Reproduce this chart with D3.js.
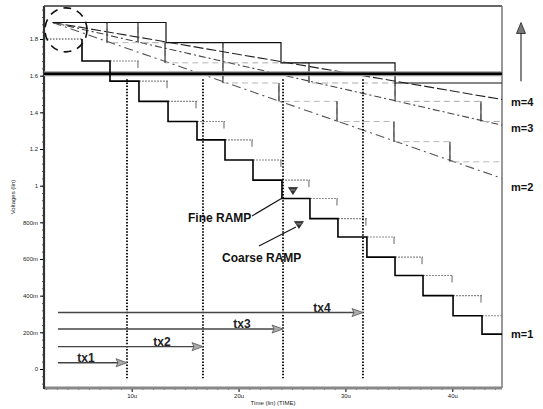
<!DOCTYPE html>
<html>
<head>
<meta charset="utf-8">
<script src="https://cdnjs.cloudflare.com/ajax/libs/d3/7.8.5/d3.min.js"></script>
<style>
body { margin: 0; background: #fff; }
svg { display: block; }
text { font-family: "Liberation Sans", Arial, sans-serif; }
</style>
</head>
<body>
<div id="chart"></div>
<script>
// times in us, voltages in V
const coarseTimes = [5.35, 7.97, 10.68, 13.40, 16.11, 18.73, 21.35, 24.06, 26.68, 29.30, 32.01, 34.64, 37.26, 40.07, 42.78];
const coarseLevels = [1.80, 1.68, 1.57, 1.46, 1.35, 1.25, 1.14, 1.03, 0.93, 0.82, 0.72, 0.61, 0.51, 0.40, 0.29, 0.19];

const stairStart = 2.6;
const stairLevels = [1.89, 1.78, 1.67, 1.56, 1.46, 1.35, 1.24, 1.13];
const m4Times = [13.21, 23.97, 34.64];
const m3Times = [10.59, 18.54, 26.59, 34.64, 42.68];
const m2Times = [7.69, 13.12, 18.54, 23.78, 29.21, 34.54, 39.78];

const rampNames = ['m=4', 'm=3', 'm=2'];
const rampEnd = [1.47, 1.33, 1.04];

const threshold = 1.61;
const txNames = ['tx1', 'tx2', 'tx3', 'tx4'];
const txTimes = [9.56, 16.67, 24.16, 31.64];
const txLevels = [0.034, 0.122, 0.218, 0.308];

const yTicks = [0, 0.2, 0.4, 0.6, 0.8, 1, 1.2, 1.4, 1.6, 1.8];
const yTickLabels = ['0', '200m', '400m', '600m', '800m', '1', '1.2', '1.4', '1.6', '1.8'];
const xTicks = [10, 20, 30, 40];
const xTickLabels = ['10u', '20u', '30u', '40u'];

const w = 543;
const h = 409;
const svg = d3.select('#chart').append('svg')
              .attr('width', w)
              .attr('height', h);

const x = d3.scaleLinear().domain([1.794, 44.65]).range([44, 502]);
const y = d3.scaleLinear().domain([-0.1037, 1.98]).range([388, 6]);
const tEnd = x.domain()[1];

const line = d3.line().x(d => x(d[0])).y(d => y(d[1]));

// staircase points from drop times and levels
const stairs = (t0, times, levels, t1) => {
    let pts = [[t0, levels[0]]];
    times.forEach((t, i) => {
        pts.push([t, levels[i]]);
        pts.push([t, levels[i + 1]]);
    });
    pts.push([t1, levels[times.length]]);
    return pts;
};

// axes
const yMinor = d3.range(-0.08, 1.98, 0.04);
svg.append('g')
   .attr('transform', `translate(${x.range()[0]},0)`)
   .call(d3.axisLeft(y).tickValues(yMinor).tickSize(2).tickFormat(''))
   .call(g => g.select('.domain').remove())
   .selectAll('line').attr('stroke', '#666');

svg.append('g')
   .attr('class', 'yaxis')
   .attr('transform', `translate(${x.range()[0]},0)`)
   .call(d3.axisLeft(y).tickValues(yTicks).tickFormat((d, i) => yTickLabels[i]).tickSize(4).tickPadding(2))
   .call(g => g.select('.domain').remove())
   .selectAll('text')
   .style('font-size', '6px')
   .attr('fill', '#222');

const xMinor = d3.range(2, 45, 1);
svg.append('g')
   .attr('transform', `translate(0,${y.range()[0]})`)
   .call(d3.axisBottom(x).tickValues(xMinor).tickSize(2).tickFormat(''))
   .call(g => g.select('.domain').remove())
   .selectAll('line').attr('stroke', '#666');

svg.append('g')
   .attr('transform', `translate(0,${y.range()[0]})`)
   .call(d3.axisBottom(x).tickValues(xTicks).tickFormat((d, i) => xTickLabels[i]).tickSize(4).tickPadding(2))
   .call(g => g.select('.domain').remove())
   .selectAll('text')
   .style('font-size', '6px')
   .attr('fill', '#222');

// frame
const [x0, x1] = x.range();
const [yb, yt] = y.range();
svg.append('line').attr('x1', x0).attr('x2', x1).attr('y1', yt).attr('y2', yt)
   .attr('stroke', '#666').attr('stroke-width', 2);
svg.append('line').attr('x1', x1).attr('x2', x1).attr('y1', yt).attr('y2', yb)
   .attr('stroke', '#777').attr('stroke-width', 1.5);
svg.append('line').attr('x1', x0).attr('x2', x1).attr('y1', yb).attr('y2', yb)
   .attr('stroke', '#888').attr('stroke-width', 3);
svg.append('line').attr('x1', x0).attr('x2', x0).attr('y1', yt).attr('y2', yb + 1)
   .attr('stroke', '#333').attr('stroke-width', 2.2);

svg.append('text')
   .attr('transform', `translate(15,${(yt + yb) / 2}) rotate(-90)`)
   .attr('text-anchor', 'middle')
   .style('font-size', '6px')
   .attr('fill', '#222')
   .text('Voltages (lin)');

svg.append('text')
   .attr('x', 273).attr('y', 405)
   .attr('text-anchor', 'middle')
   .style('font-size', '6px')
   .attr('fill', '#222')
   .text('Time (lin) (TIME)');

// straight ramps for m=2..4
rampEnd.forEach((v, i) => {
    svg.append('path')
       .attr('d', line([[stairStart, stairLevels[0]], [tEnd, v]]))
       .attr('fill', 'none')
       .attr('stroke', ['#222', '#444', '#555'][i])
       .attr('stroke-width', 1.1)
       .attr('stroke-dasharray', ['10,3', '7,3,2,3', '9,4,2,4'][i]);
});

// m=2 and m=3 staircases: faint horizontals, dark risers
[[m3Times, '#aaa'], [m2Times, '#b8b8b8']].forEach(([times, col]) => {
    svg.append('path')
       .attr('d', line(stairs(stairStart, times, stairLevels, tEnd)))
       .attr('fill', 'none')
       .attr('stroke', col)
       .attr('stroke-width', 1)
       .attr('stroke-dasharray', '6,4');
    svg.selectAll(null)
       .data(times)
       .enter()
       .append('line')
       .attr('x1', d => x(d)).attr('x2', d => x(d))
       .attr('y1', (d, i) => y(stairLevels[i]))
       .attr('y2', (d, i) => y(stairLevels[i + 1]))
       .attr('stroke', '#222')
       .attr('stroke-width', 1.1);
});

// m=4 staircase
svg.append('path')
   .attr('d', line(stairs(stairStart, m4Times, stairLevels, tEnd)))
   .attr('fill', 'none')
   .attr('stroke', '#111')
   .attr('stroke-width', 1.2);

// threshold
svg.append('line')
   .attr('x1', x0).attr('x2', x1)
   .attr('y1', y(threshold)).attr('y2', y(threshold))
   .attr('stroke', '#999').attr('stroke-width', 5);
svg.append('line')
   .attr('x1', x0).attr('x2', x1)
   .attr('y1', y(threshold)).attr('y2', y(threshold))
   .attr('stroke', '#000').attr('stroke-width', 2.5);

// fine ramp: each coarse level held one more period
coarseLevels.slice(1).forEach((v, i) => {
    const ta = coarseTimes[i + 1];
    if (ta === undefined) return;
    const tb = coarseTimes[i + 2] !== undefined ? coarseTimes[i + 2] : tEnd;
    svg.append('path')
       .attr('d', line([[ta, v], [tb, v]]))
       .attr('fill', 'none')
       .attr('stroke', '#888')
       .attr('stroke-width', 1.1)
       .attr('stroke-dasharray', '2,1');
    if (tb < tEnd) {
        svg.append('line')
           .attr('x1', x(tb) - 1).attr('x2', x(tb) - 1)
           .attr('y1', y(v)).attr('y2', y(v) + 7)
           .attr('stroke', '#666').attr('stroke-width', 1);
    }
});

// coarse ramp (m=1)
svg.append('path')
   .attr('d', line([[x.domain()[0], coarseLevels[0]], [coarseTimes[0], coarseLevels[0]]]))
   .attr('fill', 'none')
   .attr('stroke', '#333')
   .attr('stroke-width', 1.2)
   .attr('stroke-dasharray', '1.5,1.5');
svg.append('path')
   .attr('d', line(stairs(coarseTimes[0], coarseTimes, coarseLevels, tEnd).slice(1)))
   .attr('fill', 'none')
   .attr('stroke', '#000')
   .attr('stroke-width', 1.6);

// tx markers
svg.selectAll('line.tx')
   .data(txTimes)
   .enter()
   .append('line')
   .attr('class', 'tx')
   .attr('x1', d => x(d)).attr('x2', d => x(d))
   .attr('y1', y(threshold - 0.03)).attr('y2', y(-0.05))
   .attr('stroke', '#000')
   .attr('stroke-width', 1.8)
   .attr('stroke-dasharray', '1.5,1.6');

txTimes.forEach((t, i) => {
    const xe = x(t), ye = y(txLevels[i]);
    svg.append('line')
       .attr('x1', x(3.1)).attr('x2', xe - 9)
       .attr('y1', ye).attr('y2', ye)
       .attr('stroke', '#444')
       .attr('stroke-width', 1.3);
    svg.append('path')
       .attr('d', `M${xe},${ye} L${xe - 11},${ye - 4} L${xe - 9},${ye} L${xe - 11},${ye + 4} Z`)
       .attr('fill', '#aaa')
       .attr('stroke', '#555')
       .attr('stroke-width', 0.8);
    svg.append('text')
       .attr('x', xe - 41).attr('y', ye - 1)
       .attr('text-anchor', 'middle')
       .style('font-size', '12px')
       .style('font-weight', 'bold')
       .attr('fill', '#222')
       .text(txNames[i]);
});

// dashed circle at the start of the ramps
svg.append('ellipse')
   .attr('cx', x(3.85)).attr('cy', y(1.85))
   .attr('rx', 21).attr('ry', 22)
   .attr('fill', 'none')
   .attr('stroke', '#111')
   .attr('stroke-width', 1.6)
   .attr('stroke-dasharray', '8,6');

// right side labels
rampNames.forEach((n, i) => {
    svg.append('text')
       .attr('x', x1 + 9).attr('y', y(rampEnd[i]) + [3, 3, 9][i] + 4)
       .style('font-size', '11px')
       .style('font-weight', 'bold')
       .attr('fill', '#111')
       .text(n);
});
svg.append('text')
   .attr('x', x1 + 9).attr('y', y(coarseLevels[coarseLevels.length - 1]) + 4)
   .style('font-size', '11px')
   .style('font-weight', 'bold')
   .attr('fill', '#111')
   .text('m=1');

const ax = x1 + 19;
svg.append('line')
   .attr('x1', ax).attr('x2', ax)
   .attr('y1', y(1.57)).attr('y2', y(1.86))
   .attr('stroke', '#333').attr('stroke-width', 1.2);
svg.append('path')
   .attr('d', `M${ax},${y(1.89)} L${ax - 4.5},${y(1.89) + 11} L${ax + 4.5},${y(1.89) + 11} Z`)
   .attr('fill', '#777')
   .attr('stroke', '#222')
   .attr('stroke-width', 0.8);

// ramp callouts
const callout = (label, tx, vy, lineFrom, lineTo, mark) => {
    svg.append('text')
       .attr('x', x(tx)).attr('y', y(vy))
       .style('font-size', '12px')
       .style('font-weight', 'bold')
       .attr('fill', '#111')
       .text(label);
    svg.append('path')
       .attr('d', line([lineFrom, lineTo]))
       .attr('stroke', '#111')
       .attr('stroke-width', 1.1);
    const mx = x(mark[0]), my = y(mark[1]);
    svg.append('path')
       .attr('d', `M${mx - 4.5},${my - 3.5} L${mx + 4.5},${my - 3.5} L${mx},${my + 3.5} Z`)
       .attr('fill', '#333')
       .attr('stroke', '#111')
       .attr('stroke-width', 0.6);
    svg.append('line')
       .attr('x1', mx - 2.5).attr('x2', mx + 2.5)
       .attr('y1', my - 1).attr('y2', my - 1)
       .attr('stroke', '#ccc').attr('stroke-width', 0.7);
};
callout('Fine RAMP', 15.27, 0.802, [21.26, 0.835], [24.25, 0.938], [25.09, 0.971]);
callout('Coarse RAMP', 18.45, 0.584, [21.91, 0.671], [25.37, 0.775], [25.65, 0.786]);
</script>
</body>
</html>
